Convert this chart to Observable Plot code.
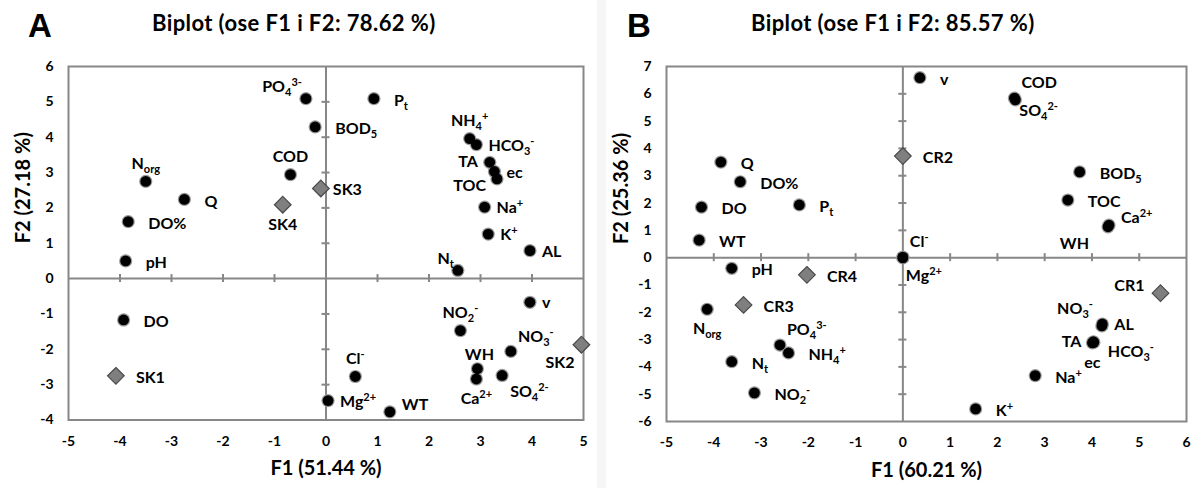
<!DOCTYPE html>
<html><head><meta charset="utf-8">
<script src="https://cdn.jsdelivr.net/npm/d3@7"></script>
<script src="https://cdn.jsdelivr.net/npm/@observablehq/plot@0.6"></script>
<style>
body{margin:0;background:#fff;}
#wrap{position:relative;width:1194px;height:488px;overflow:hidden;background:#fff;}
.panel{position:absolute;top:0;width:597px;height:488px;}
.letter{position:absolute;top:9px;font-family:"Liberation Sans",Arial,sans-serif;font-weight:bold;font-size:33px;line-height:33px;color:#000;}
.title{position:absolute;top:12px;font-family:Lato,sans-serif;font-weight:bold;font-size:22px;line-height:22px;letter-spacing:0.4px;white-space:nowrap;color:#000;}
.panel svg{position:absolute;left:0;top:40px;}
.strip{position:absolute;left:597px;top:0;width:9px;height:488px;background:#f6f6f6;}
</style></head>
<body><div id="wrap"><div class="strip"></div></div>
<script>
// ---------- Panel A data ----------
const varsA = ["PO_{4}^{3-}","P_{t}","BOD_{5}","NH_{4}^{+}","HCO_{3}^{-}","TA","ec","TOC","COD","N_{org}","Q","DO%","Na^{+}","K^{+}","AL","pH","N_{t}","v","DO","NO_{2}^{-}","NO_{3}^{-}","Cl^{-}","WH","Ca^{2+}","SO_{4}^{2-}","Mg^{2+}","WT"];
const f1A = [-0.39,0.93,-0.21,2.79,2.92,3.18,3.27,3.32,-0.69,-3.50,-2.75,-3.84,3.08,3.15,3.96,-3.89,2.56,3.96,-3.93,2.61,3.59,0.57,2.94,2.92,3.42,0.04,1.24];
const f2A = [5.09,5.09,4.29,3.96,3.79,3.29,3.03,2.82,2.94,2.75,2.24,1.61,2.02,1.26,0.79,0.50,0.23,-0.67,-1.17,-1.47,-2.06,-2.77,-2.55,-2.84,-2.74,-3.45,-3.77];
const placeA = ["tl","r","r","t","rn","l","rn","lb","t","t","r","r","rn","rn","rn","r","tl","rn","r","t","tr","t","tn","b","br","rn","rt"];
const sitesA = ["SK1","SK2","SK3","SK4"];
const sf1A = [-4.08,4.96,-0.10,-0.84];
const sf2A = [-2.75,-1.87,2.55,2.09];
const splaceA = ["r","bl","rn","b"];
const xTicksA = [-5,-4,-3,-2,-1,0,1,2,3,4,5];
const yTicksA = [-4,-3,-2,-1,0,1,2,3,4,5,6];
const titleA = "Biplot (ose F1 i F2: 78.62 %)";
const xLabelA = "F1 (51.44 %)";
const yLabelA = "F2 (27.18 %)";

// ---------- Panel B data ----------
const varsB = ["v","COD","SO_{4}^{2-}","Q","DO%","BOD_{5}","DO","P_{t}","TOC","Ca^{2+}","WH","WT","Cl^{-}","Mg^{2+}","pH","N_{org}","NO_{3}^{-}","AL","TA","ec","HCO_{3}^{-}","PO_{4}^{3-}","NH_{4}^{+}","N_{t}","Na^{+}","NO_{2}^{-}","K^{+}"];
const f1B = [0.36,2.36,2.38,-3.85,-3.44,3.74,-4.26,-2.19,3.49,4.36,4.34,-4.31,0.00,0.00,-3.62,-4.14,4.21,4.22,4.03,4.01,4.04,-2.60,-2.42,-3.62,2.80,-3.14,1.54];
const f2B = [6.59,5.84,5.78,3.50,2.78,3.14,1.85,1.93,2.11,1.19,1.13,0.64,0.02,-0.01,-0.39,-1.89,-2.50,-2.43,-3.08,-3.12,-3.10,-3.20,-3.49,-3.81,-4.32,-4.95,-5.54];
const placeB = ["r","tr","brn","r","r","r","r","r","r","rt","blw","r","tr","bri","r","b","tlh","rn","l","b","rb","tr","r","r","r","r","r"];
const sitesB = ["CR1","CR2","CR3","CR4"];
const sf1B = [5.45,0.00,-3.37,-2.03];
const sf2B = [-1.30,3.72,-1.73,-0.63];
const splaceB = ["lt","r","r","r"];
const xTicksB = [-5,-4,-3,-2,-1,0,1,2,3,4,5,6];
const yTicksB = [-6,-5,-4,-3,-2,-1,0,1,2,3,4,5,6,7];
const titleB = "Biplot (ose F1 i F2: 85.57 %)";
const xLabelB = "F1 (60.21 %)";
const yLabelB = "F2 (25.36 %)";

// ---------- label placement styles: [textAnchor, dx, dy] ----------
const PLACE = {
  r:["start",20,2], rn:["start",12,1], l:["end",-12,0], lb:["end",-11,7],
  t:["middle",0,-18], tn:["middle",2,-14], b:["middle",0,20],
  tl:["end",-4,-12], tlh:["end",-9,-17], tr:["start",7,-15], rt:["start",12,-7],
  bl:["end",-7,18], blw:["end",-19,17], br:["start",8,16], brn:["start",4,11],
  rb:["start",14,10], bri:["start",3,18], lt:["end",-16,-7]
};
const GRID = "#878787";

function rows(names, xs, ys, places){
  return names.map((n,i)=>({label:n, x:xs[i], y:ys[i], place:places[i]}));
}

function richify(svg){
  d3.select(svg).selectAll('g[aria-label="text"] text').each(function(){
    const s = this.textContent;
    if (!/[_^]\{/.test(s)) return;
    const parts = s.split(/([_^]\{[^}]*\})/).filter(p=>p!=="");
    while (this.firstChild) this.removeChild(this.firstChild);
    let shift = 0;
    for (const p of parts){
      let target = 0, content = p, small = false;
      if (p.startsWith("_{")) { target = 4; content = p.slice(2,-1); small = true; }
      else if (p.startsWith("^{")) { target = -6; content = p.slice(2,-1); small = true; }
      const ts = document.createElementNS("http://www.w3.org/2000/svg","tspan");
      if (target !== shift) ts.setAttribute("dy", target - shift);
      if (small) ts.setAttribute("font-size", "11");
      ts.textContent = content;
      this.appendChild(ts);
      shift = target;
    }
  });
}

function panel(cfg){
  const pts = rows(cfg.vars, cfg.f1, cfg.f2, cfg.place);
  const sts = rows(cfg.sites, cfg.sf1, cfg.sf2, cfg.splace);
  const all = pts.concat(sts);
  const xd = [cfg.xTicks[0], cfg.xTicks[cfg.xTicks.length-1]];
  const yd = [cfg.yTicks[0], cfg.yTicks[cfg.yTicks.length-1]];
  const labelMarks = Object.entries(PLACE).map(([code,[anchor,dx,dy]]) =>
    Plot.text(all.filter(d=>d.place===code), {x:"x", y:"y", text:"label", textAnchor:anchor, dx, dy, fontSize:16, fill:"#000"}));
  const svg = Plot.plot({
    width: 597, height: 448,
    marginLeft: cfg.mL, marginRight: cfg.mR, marginTop: 26, marginBottom: cfg.mB,
    x: {domain: xd}, y: {domain: yd},
    style: {fontFamily: "Lato, sans-serif", fontWeight: "bold", fontSize: "14px", background: "transparent", overflow: "visible", color: "#000"},
    marks: [
      Plot.ruleY([0], {stroke: GRID, strokeWidth: 2}),
      Plot.ruleX([0], {stroke: GRID, strokeWidth: 2}),
      Plot.ruleX(cfg.xTicks.filter(d=>d>xd[0] && d<xd[1] && d!==0), {x: d=>d, y1: 0, y2: 0, insetTop: -4, insetBottom: -4, stroke: GRID, strokeWidth: 2}),
      Plot.ruleY(cfg.yTicks.filter(d=>d>yd[0] && d<yd[1] && d!==0), {y: d=>d, x1: 0, x2: 0, insetLeft: -4, insetRight: -4, stroke: GRID, strokeWidth: 2}),
      Plot.frame({stroke: GRID, strokeWidth: 2}),
      Plot.axisX({ticks: cfg.xTicks, tickSize: 0, tickPadding: 16, tickFormat: d=>String(d), label: null, fontSize: 14}),
      Plot.axisY({ticks: cfg.yTicks, tickSize: 0, tickPadding: 15, tickFormat: d=>String(d), label: null, fontSize: 14}),
      Plot.text([cfg.xLabel], {frameAnchor: "bottom", text: d=>d, dy: 55, fontSize: 20}),
      Plot.text([cfg.yLabel], {frameAnchor: "left", text: d=>d, dx: -45, rotate: -90, fontSize: 20}),
      Plot.dot(pts, {x:"x", y:"y", r: 6.6, fill: "#9a9a9a"}),
      Plot.dot(pts, {x:"x", y:"y", r: 5.4, fill: "#000"}),
      Plot.dot(sts, {x:"x", y:"y", r: 7.5, symbol: "diamond2", fill: "#7f7f7f", stroke: "#4a4a4a", strokeWidth: 1.2}),
      ...labelMarks
    ]
  });
  richify(svg);
  const div = document.createElement("div");
  div.className = "panel";
  div.style.left = cfg.left + "px";
  const letter = document.createElement("div");
  letter.className = "letter"; letter.textContent = cfg.letter; letter.style.left = cfg.letterX + "px";
  const title = document.createElement("div");
  title.className = "title"; title.textContent = cfg.title; title.style.left = cfg.titleX + "px";
  div.appendChild(letter); div.appendChild(title); div.appendChild(svg);
  document.getElementById("wrap").appendChild(div);
}

panel({vars: varsA, f1: f1A, f2: f2A, place: placeA, sites: sitesA, sf1: sf1A, sf2: sf2A, splace: splaceA,
  xTicks: xTicksA, yTicks: yTicksA, title: titleA, xLabel: xLabelA, yLabel: yLabelA,
  left: 0, mL: 68, mR: 14, mB: 68.5, letter: "A", letterX: 28, titleX: 152});
panel({vars: varsB, f1: f1B, f2: f2B, place: placeB, sites: sitesB, sf1: sf1B, sf2: sf2B, splace: splaceB,
  xTicks: xTicksB, yTicks: yTicksB, title: titleB, xLabel: xLabelB, yLabel: yLabelB,
  left: 597, mL: 69, mR: 8, mB: 67, letter: "B", letterX: 30, titleX: 154});
</script>
</body></html>
